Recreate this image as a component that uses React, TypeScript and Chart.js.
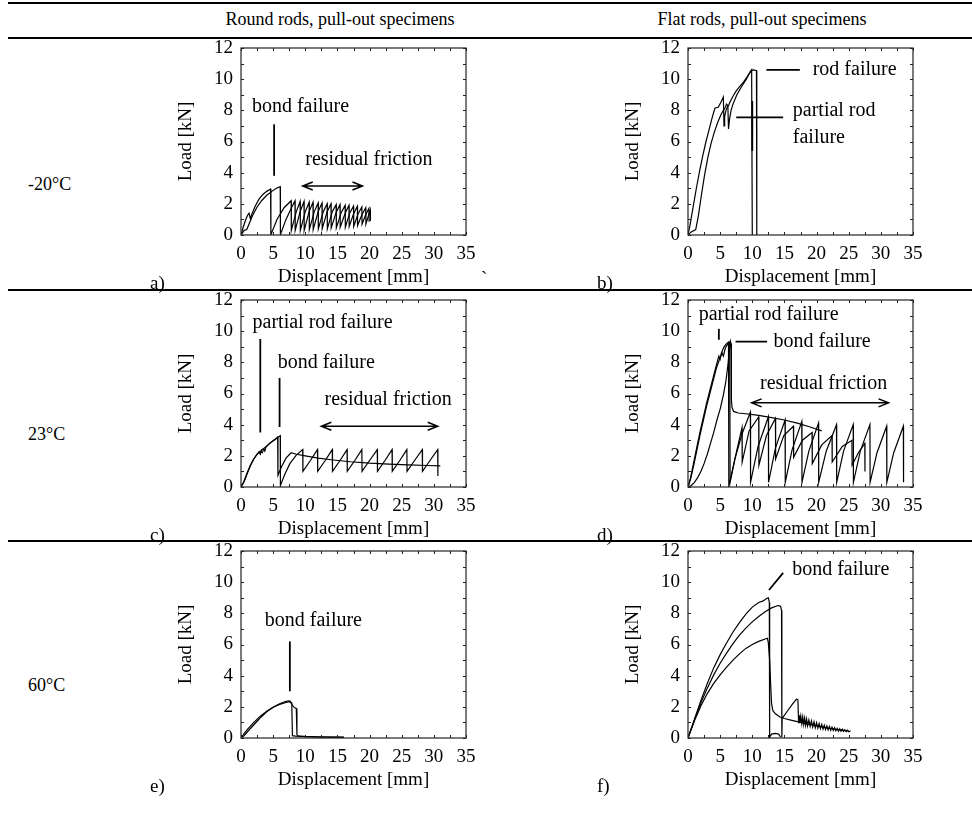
import React, { useEffect, useRef } from "react";
import { Chart, registerables } from "chart.js";

Chart.register(...registerables);

type Pt = [number, number];
type Ann = {
  texts: { x: number; y: number; t: string }[];
  lines: [number, number, number, number][];
  arrows: [number, number, number, number][];
};

const FONT = '"Liberation Serif", "Times New Roman", serif';

// ---------- axes ----------
const X_TICK_LABELS = [0, 5, 10, 15, 20, 25, 30, 35];
const Y_TICK_LABELS = [0, 2, 4, 6, 8, 10, 12];
const X_MINOR = [0, 2.5, 5, 7.5, 10, 12.5, 15, 17.5, 20, 22.5, 25, 27.5, 30, 32.5, 35];
const Y_MINOR = [0, 1, 2, 3, 4, 5, 6, 7, 8, 9, 10, 11, 12];

// ---------- table texts ----------
const COLUMN_TITLES = ["Round rods, pull-out specimens", "Flat rods, pull-out specimens"];
const ROW_TITLES = ["-20°C", "23°C", "60°C"];
const PANEL_LETTERS = ["a)", "b)", "c)", "d)", "e)", "f)"];
const X_TITLE = "Displacement [mm]";
const Y_TITLE = "Load [kN]";

// ---------- a) -20°C round rods ----------
const a1: Pt[] = [
  [0, 0], [0.3, 0.45], [0.7, 0.95], [1.0, 1.25], [1.25, 1.4], [1.45, 1.05], [1.7, 1.35], [2.2, 1.85],
  [2.8, 2.3], [3.4, 2.6], [4.0, 2.8], [4.6, 2.95], [4.65, 0.02],
  [5.6, 1.0], [6.7, 1.75], [7.8, 2.2], [7.83, 0.3], [8.6, 1.5], [9.2, 2.15], [9.23, 0.3], [10.0, 1.5],
  [10.6, 2.1], [10.63, 0.35], [11.4, 1.5], [12.0, 2.05], [12.03, 0.4], [12.8, 1.5], [13.4, 2.0],
  [13.43, 0.4], [14.2, 1.5], [14.8, 1.95], [14.83, 0.45], [15.6, 1.45], [16.2, 1.9], [16.23, 0.5],
  [16.9, 1.4], [17.5, 1.85], [17.53, 0.55], [18.2, 1.35], [18.8, 1.8], [18.83, 0.7], [19.4, 1.3],
  [19.9, 1.7], [19.93, 0.85],
];
const a2: Pt[] = [
  [0, 0], [0.5, 0.3], [0.9, 0.35], [1.3, 0.75], [1.8, 1.25], [2.5, 1.8], [3.2, 2.2], [4.0, 2.55],
  [4.8, 2.8], [5.5, 3.0], [6.1, 3.1], [6.13, 0.02],
  [7.0, 1.0], [7.8, 1.7], [8.4, 2.2], [8.43, 0.3], [9.2, 1.5], [9.8, 2.15], [9.83, 0.3], [10.6, 1.5],
  [11.2, 2.1], [11.23, 0.35], [12.0, 1.5], [12.6, 2.05], [12.63, 0.4], [13.4, 1.5], [14.0, 2.0],
  [14.03, 0.45], [14.8, 1.45], [15.4, 1.95], [15.43, 0.5], [16.2, 1.4], [16.8, 1.9], [16.83, 0.55],
  [17.5, 1.35], [18.1, 1.85], [18.13, 0.6], [18.8, 1.3], [19.4, 1.75], [19.43, 0.7], [19.8, 1.2],
  [20.1, 1.6], [20.13, 0.9],
];

// ---------- b) -20°C flat rods ----------
const b1: Pt[] = [
  [0, 0], [0.3, 0.6], [0.8, 1.8], [1.3, 3.0], [1.8, 4.1], [2.3, 5.1], [2.8, 6.0], [3.3, 6.8],
  [3.8, 7.6], [4.2, 8.15], [4.7, 8.2], [5.1, 8.5], [5.5, 8.85], [5.6, 7.0], [5.7, 7.6], [5.9, 8.0],
  [6.1, 8.2], [6.3, 8.3], [6.5, 8.5], [7.0, 8.9], [7.5, 9.25], [8.0, 9.5], [8.6, 9.8], [9.2, 10.15],
  [9.8, 10.55], [10.2, 10.6], [10.65, 10.55], [10.7, 0],
];
const b2: Pt[] = [
  [0, 0], [0.5, 0.2], [1.2, 0.35], [1.6, 1.2], [2.1, 2.6], [2.6, 3.9], [3.1, 5.0], [3.6, 5.9],
  [4.1, 6.6], [4.6, 7.2], [5.1, 7.7], [5.5, 8.0], [5.8, 8.2], [6.0, 8.4], [6.2, 8.3], [6.3, 6.8],
  [6.45, 7.4], [6.7, 8.0], [7.0, 8.4], [7.6, 9.0], [8.3, 9.5], [9.0, 9.95], [9.6, 10.4], [9.9, 10.6],
  [10.0, 0],
];

// ---------- c) 23°C round rods ----------
const c1: Pt[] = [
  [0, 0], [0.4, 0.3], [0.9, 0.85], [1.4, 1.35], [1.9, 1.75], [2.4, 2.05], [2.8, 2.25], [3.0, 2.1],
  [3.2, 2.4], [3.5, 2.45], [3.7, 2.3], [3.9, 2.6], [4.3, 2.75], [4.8, 2.9], [5.3, 3.05], [5.7, 3.2],
  [5.75, 0.75], [6.3, 1.3], [7.0, 1.85], [7.8, 2.2], [8.6, 2.1], [10, 2.0], [12, 1.85], [14, 1.75],
  [17, 1.62], [20, 1.53], [23, 1.47], [26, 1.42], [29, 1.38], [31, 1.36],
];
const c2: Pt[] = [
  [0, 0], [0.5, 0.35], [1.0, 0.9], [1.5, 1.4], [2.0, 1.8], [2.5, 2.1], [3.0, 2.3], [3.3, 2.2],
  [3.6, 2.5], [4.1, 2.65], [4.6, 2.85], [5.1, 3.0], [5.6, 3.15], [6.1, 3.3], [6.13, 0.1],
  [6.8, 0.8], [7.6, 1.5], [8.6, 2.05], [9.6, 2.4], [9.63, 1.0], [10.8, 1.7], [11.9, 2.4], [11.93, 1.0],
  [13.1, 1.7], [14.2, 2.4], [14.23, 1.0], [15.4, 1.7], [16.5, 2.4], [16.53, 1.0], [17.7, 1.7],
  [18.8, 2.4], [18.83, 1.0], [20.0, 1.7], [21.2, 2.4], [21.23, 1.0], [22.4, 1.7], [23.5, 2.4],
  [23.53, 1.0], [24.7, 1.7], [25.8, 2.4], [25.83, 1.0], [27.0, 1.7], [28.2, 2.4], [28.23, 1.0],
  [29.4, 1.7], [30.6, 2.4], [30.63, 0.7],
];

// ---------- d) 23°C flat rods ----------
const d1: Pt[] = [
  [0, 0], [0.4, 0.6], [0.9, 1.6], [1.4, 2.6], [1.9, 3.6], [2.4, 4.5], [2.9, 5.4], [3.4, 6.2],
  [3.9, 7.0], [4.4, 7.8], [4.8, 8.4], [5.0, 8.2], [5.2, 8.6], [5.6, 9.0], [6.0, 9.2], [6.3, 9.3],
  [6.35, 0.05], [7.3, 1.8], [8.4, 3.4], [9.7, 4.8], [9.73, 0.3], [10.9, 2.6], [12.5, 4.5], [12.53, 0.3],
  [13.6, 2.5], [15.1, 4.3], [15.13, 0.3], [16.2, 2.4], [17.7, 4.2], [17.73, 0.3], [18.8, 2.3],
  [20.3, 4.1], [20.33, 0.3], [21.5, 2.3], [23.1, 4.0], [23.13, 0.3], [24.2, 2.3], [25.7, 4.0],
  [25.73, 0.3], [26.8, 2.3], [28.3, 4.0], [28.33, 0.3], [29.4, 2.2], [30.9, 3.9], [30.93, 0.3],
  [32.0, 2.2], [33.5, 3.9], [33.53, 0.3],
];
const d2: Pt[] = [
  [0, 0], [0.5, 0.1], [1.0, 0.3], [1.5, 0.6], [2.0, 1.0], [2.5, 1.5], [3.0, 2.1], [3.5, 2.8],
  [4.0, 3.5], [4.5, 4.3], [5.0, 5.0], [5.5, 5.9], [5.9, 6.8], [6.2, 7.8], [6.4, 8.6], [6.6, 9.35],
  [6.7, 9.2], [6.75, 5.6], [6.85, 5.1], [7.1, 4.85], [7.8, 4.75], [9, 4.7], [11, 4.6], [13, 4.45],
  [15, 4.3], [17, 4.1], [19, 3.85], [20.8, 3.6],
];
const d3: Pt[] = [
  [0, 0], [0.4, 0.5], [0.9, 1.4], [1.4, 2.4], [1.9, 3.4], [2.4, 4.3], [2.9, 5.2], [3.4, 6.0],
  [3.9, 6.8], [4.4, 7.6], [4.9, 8.2], [5.3, 8.6], [5.5, 8.4], [5.8, 8.9], [6.2, 9.2], [6.5, 9.3],
  [6.55, 0.3], [7.4, 2.0], [8.4, 3.8], [8.43, 1.6], [9.5, 3.6], [11.0, 4.5], [11.03, 1.4], [12.2, 3.3],
  [13.6, 4.4], [13.63, 1.8], [14.9, 3.3], [16.4, 3.9], [16.43, 1.9], [17.8, 3.0], [19.3, 3.5],
  [19.33, 1.5], [20.8, 2.7], [22.4, 3.3], [22.43, 1.6], [24.0, 2.6], [25.5, 3.0], [25.53, 1.4],
  [26.5, 2.2], [27.5, 2.8], [27.53, 1.0],
];

// ---------- e) 60°C round rods ----------
const e1: Pt[] = [
  [0, 0], [0.5, 0.3], [1, 0.55], [2, 1.0], [3, 1.4], [4, 1.72], [5, 1.97], [6, 2.15], [7, 2.28],
  [7.5, 2.33], [7.9, 2.25], [8.0, 0.15], [8.5, 0.12], [10, 0.08], [12, 0.06], [14, 0.05], [16, 0.04],
];
const e2: Pt[] = [
  [0, 0], [0.5, 0.15], [1, 0.4], [2, 0.85], [3, 1.3], [4, 1.68], [5, 1.98], [6, 2.2], [7, 2.35],
  [7.6, 2.38], [8.0, 2.1], [8.3, 1.95], [8.6, 1.9], [8.7, 0.2], [9, 0.12], [10, 0.1], [12, 0.08],
  [14, 0.06], [16, 0.05],
];

// ---------- f) 60°C flat rods ----------
const f1: Pt[] = [
  [0, 0], [1, 1.2], [2, 2.4], [3, 3.5], [4, 4.5], [5, 5.35], [6, 6.1], [7, 6.8], [8, 7.4], [9, 7.95],
  [10, 8.4], [11, 8.7], [11.7, 8.8], [12.2, 8.95], [12.5, 9.0], [12.65, 8.7], [12.7, 0.05],
  [13.0, 0.25], [13.6, 0.3], [14.1, 0.25], [14.4, 0.05],
];
const f2: Pt[] = [
  [0, 0], [1, 1.15], [2, 2.25], [3, 3.2], [4, 4.05], [5, 4.8], [6, 5.45], [7, 6.05], [8, 6.6],
  [9, 7.05], [10, 7.45], [11, 7.8], [12, 8.1], [13, 8.35], [14, 8.5], [14.4, 8.45], [14.55, 8.2],
  [14.6, 0.05], [14.65, 1.25], [15.5, 1.75], [16.3, 2.2], [16.9, 2.5], [17.1, 2.45], [17.2, 0.95],
  [17.3, 1.45], [17.4, 0.95], [17.55, 1.4], [17.7, 0.9], [17.85, 1.35], [18.0, 0.86], [18.15, 1.28],
  [18.3, 0.82], [18.45, 1.22], [18.6, 0.78], [18.8, 1.16], [19.0, 0.74], [19.2, 1.1], [19.4, 0.7],
  [19.6, 1.04], [19.8, 0.66], [20.0, 0.98], [20.2, 0.63], [20.4, 0.92], [20.6, 0.6], [20.8, 0.87],
  [21.0, 0.57], [21.2, 0.82], [21.4, 0.54], [21.6, 0.78], [21.8, 0.52], [22.0, 0.74], [22.2, 0.5],
  [22.4, 0.7], [22.6, 0.48], [22.8, 0.66], [23.0, 0.46], [23.2, 0.62], [23.4, 0.44], [23.6, 0.59],
  [23.8, 0.43], [24.0, 0.56], [24.2, 0.42], [24.4, 0.53], [24.6, 0.41], [24.8, 0.5], [25.0, 0.4],
  [25.3, 0.46],
];
const f3: Pt[] = [
  [0, 0], [1, 1.1], [2, 2.05], [3, 2.85], [4, 3.5], [5, 4.05], [6, 4.55], [7, 5.0], [8, 5.4],
  [9, 5.75], [10, 6.0], [11, 6.2], [12, 6.35], [12.35, 6.4], [12.5, 6.1], [12.7, 5.0], [12.85, 3.5],
  [13.0, 2.2], [13.2, 1.75], [13.6, 1.55], [14.3, 1.35], [15, 1.25], [16, 1.15], [17, 1.05],
  [18, 0.95], [19, 0.85], [20, 0.78], [21, 0.7], [22, 0.62], [23, 0.55], [24, 0.5], [25, 0.45],
];

// ---------- annotations (data units) ----------
const annA: Ann = {
  texts: [{ x: 1.7, y: 8.2, t: "bond failure" }, { x: 10, y: 4.86, t: "residual friction" }],
  lines: [[5.15, 7.1, 5.15, 3.8]],
  arrows: [[9.6, 3.14, 18.9, 3.14]],
};
const annB: Ann = {
  texts: [
    { x: 19.4, y: 10.6, t: "rod failure" },
    { x: 16.3, y: 7.96, t: "partial rod" },
    { x: 16.3, y: 6.25, t: "failure" },
  ],
  lines: [[12.2, 10.6, 17.4, 10.6], [7.5, 7.55, 14.8, 7.55], [10.0, 8.6, 10.0, 5.4]],
  arrows: [],
};
const annC: Ann = {
  texts: [
    { x: 1.8, y: 10.55, t: "partial rod failure" },
    { x: 5.7, y: 8.0, t: "bond failure" },
    { x: 13.0, y: 5.6, t: "residual friction" },
  ],
  lines: [[3.0, 9.5, 3.0, 3.5], [6.0, 7.0, 6.0, 3.85]],
  arrows: [[12.5, 3.9, 30.6, 3.9]],
};
const annD: Ann = {
  texts: [
    { x: 1.66, y: 11.05, t: "partial rod failure" },
    { x: 13.3, y: 9.33, t: "bond failure" },
    { x: 11.2, y: 6.65, t: "residual friction" },
  ],
  lines: [[4.8, 10.15, 4.8, 9.45], [7.4, 9.33, 12.3, 9.33]],
  arrows: [[9.9, 5.4, 31.2, 5.4]],
};
const annE: Ann = {
  texts: [{ x: 3.7, y: 7.55, t: "bond failure" }],
  lines: [[7.6, 6.2, 7.6, 3.0]],
  arrows: [],
};
const annF: Ann = {
  texts: [{ x: 16.2, y: 10.8, t: "bond failure" }],
  lines: [[12.6, 9.5, 14.8, 10.6]],
  arrows: [],
};

// ---------- layout ----------
const PW = 225;
const PH = 187;
const COL_LEFT = [241, 688];
const ROW_TOP = [48, 300, 551];
const RULES = [3, 38, 290, 541];
const ROW_LABEL_Y = [184, 434, 685];
const AX_FONT = 19;
const ANN_FONT = 20;

const PANELS = [
  { series: [a1, a2], ann: annA },
  { series: [b1, b2], ann: annB },
  { series: [c1, c2], ann: annC },
  { series: [d1, d2, d3], ann: annD },
  { series: [e1, e2], ann: annE },
  { series: [f1, f2, f3], ann: annF },
];

function makeFramePlugin(ann: Ann) {
  return {
    id: "frameAnn",
    afterDraw(chart: any) {
      const { ctx, chartArea } = chart;
      const { left, right, top, bottom } = chartArea;
      const xs = chart.scales.x;
      const ys = chart.scales.y;
      ctx.save();
      ctx.strokeStyle = "#222";
      ctx.lineWidth = 1.2;
      ctx.strokeRect(left, top, right - left, bottom - top);
      ctx.lineWidth = 1;
      ctx.beginPath();
      for (const v of X_MINOR) {
        const px = Math.round(xs.getPixelForValue(v)) + 0.5;
        ctx.moveTo(px, bottom);
        ctx.lineTo(px, bottom - 3);
        ctx.moveTo(px, top);
        ctx.lineTo(px, top + 3);
      }
      for (const v of Y_MINOR) {
        const py = Math.round(ys.getPixelForValue(v)) + 0.5;
        ctx.moveTo(left, py);
        ctx.lineTo(left + 3, py);
        ctx.moveTo(right, py);
        ctx.lineTo(right - 3, py);
      }
      ctx.stroke();

      ctx.strokeStyle = "#000";
      ctx.fillStyle = "#000";
      ctx.lineWidth = 1.8;
      for (const [x1, y1, x2, y2] of ann.lines) {
        ctx.beginPath();
        ctx.moveTo(xs.getPixelForValue(x1), ys.getPixelForValue(y1));
        ctx.lineTo(xs.getPixelForValue(x2), ys.getPixelForValue(y2));
        ctx.stroke();
      }
      ctx.lineWidth = 1.5;
      for (const [x1, y1, x2, y2] of ann.arrows) {
        const p1x = xs.getPixelForValue(x1);
        const p1y = ys.getPixelForValue(y1);
        const p2x = xs.getPixelForValue(x2);
        const p2y = ys.getPixelForValue(y2);
        ctx.beginPath();
        ctx.moveTo(p1x, p1y);
        ctx.lineTo(p2x, p2y);
        ctx.moveTo(p1x + 10, p1y - 4);
        ctx.lineTo(p1x, p1y);
        ctx.lineTo(p1x + 10, p1y + 4);
        ctx.moveTo(p2x - 10, p2y - 4);
        ctx.lineTo(p2x, p2y);
        ctx.lineTo(p2x - 10, p2y + 4);
        ctx.stroke();
      }
      ctx.font = `${ANN_FONT}px ${FONT}`;
      ctx.textAlign = "left";
      ctx.textBaseline = "middle";
      for (const t of ann.texts) {
        ctx.fillText(t.t, xs.getPixelForValue(t.x), ys.getPixelForValue(t.y));
      }
      ctx.restore();
    },
  };
}

function Panel({ series, ann, PL, PT }: { series: Pt[][]; ann: Ann; PL: number; PT: number }) {
  const ref = useRef<HTMLCanvasElement | null>(null);
  const W = 70 + PW + 22;
  const H = 24 + PH + 56;
  useEffect(() => {
    const canvas = ref.current!;
    const pad = { top: 24, right: 22, left: 0, bottom: 0 };
    const font = { family: FONT, size: AX_FONT };
    const chart = new Chart(canvas, {
      type: "scatter",
      data: {
        datasets: series.map((s) => ({
          data: s.map(([x, y]) => ({ x, y })),
          showLine: true,
          borderColor: "#000",
          backgroundColor: "#000",
          borderWidth: 1.2,
          pointRadius: 0,
          pointHoverRadius: 0,
          fill: false,
          tension: 0,
        })),
      },
      options: {
        animation: false,
        responsive: false,
        maintainAspectRatio: false,
        events: [],
        layout: { padding: { ...pad } },
        plugins: { legend: { display: false }, tooltip: { enabled: false } },
        scales: {
          x: {
            type: "linear",
            min: 0,
            max: 35,
            afterBuildTicks: (s: any) => {
              s.ticks = X_TICK_LABELS.map((v) => ({ value: v }));
            },
            afterFit: (s: any) => {
              s.height = 56;
            },
            ticks: { color: "#000", font, padding: 8, maxRotation: 0, autoSkip: false, callback: (v: any) => String(v) },
            grid: { display: false, drawTicks: false },
            border: { display: false },
            title: { display: true, text: X_TITLE, color: "#000", font, padding: { top: 0, bottom: 3 } },
          },
          y: {
            type: "linear",
            min: 0,
            max: 12,
            afterBuildTicks: (s: any) => {
              s.ticks = Y_TICK_LABELS.map((v) => ({ value: v }));
            },
            afterFit: (s: any) => {
              s.width = 70;
            },
            ticks: { color: "#000", font, padding: 8, autoSkip: false, callback: (v: any) => String(v) },
            grid: { display: false, drawTicks: false },
            border: { display: false },
            title: { display: true, text: Y_TITLE, color: "#000", font, padding: { top: 4, bottom: 0 } },
          },
        },
      } as any,
      plugins: [makeFramePlugin(ann)],
    });
    const fit = () => {
      let ca = chart.chartArea;
      const dw = ca.right - ca.left - PW;
      const dh = ca.bottom - ca.top - PH;
      if (Math.abs(dw) > 0.5 || Math.abs(dh) > 0.5) {
        pad.right += dw;
        pad.bottom += dh;
        (chart.options as any).layout.padding = { ...pad };
        chart.update();
        ca = chart.chartArea;
      }
      canvas.style.left = `${PL - ca.left}px`;
      canvas.style.top = `${PT - ca.top}px`;
    };
    fit();
    let alive = true;
    const fonts = (document as any).fonts;
    if (fonts && fonts.load) {
      Promise.all([
        fonts.load(`${AX_FONT}px "Liberation Serif"`),
        fonts.load(`${ANN_FONT}px "Liberation Serif"`),
      ]).then(() => {
        if (!alive) return;
        chart.update();
        fit();
      }, () => {});
    }
    return () => {
      alive = false;
      chart.destroy();
    };
  }, []);
  return (
    <canvas
      ref={ref}
      width={W}
      height={H}
      style={{ position: "absolute", left: PL - 70, top: PT - 24, width: W, height: H }}
    />
  );
}

function Label({ x, y, text, size, center }: { x: number; y: number; text: string; size: number; center?: boolean }) {
  return (
    <div
      style={{
        position: "absolute",
        left: x,
        top: y,
        fontSize: size,
        lineHeight: 1,
        whiteSpace: "nowrap",
        color: "#000",
        transform: center ? "translate(-50%, -50%)" : "translate(0, -50%)",
      }}
    >
      {text}
    </div>
  );
}

export default function App() {
  return (
    <div
      style={{
        position: "absolute",
        left: 0,
        top: 0,
        width: 972,
        height: 834,
        background: "#fff",
        overflow: "hidden",
        fontFamily: FONT,
      }}
    >
      {RULES.map((y, i) => (
        <div key={`r${i}`} style={{ position: "absolute", left: 8, top: y - 1, width: 964, height: 2, background: "#000" }} />
      ))}
      <Label x={340} y={19} text={COLUMN_TITLES[0]} size={18} center />
      <Label x={762} y={19} text={COLUMN_TITLES[1]} size={18} center />
      {ROW_TITLES.map((t, r) => (
        <Label key={`rt${r}`} x={28} y={ROW_LABEL_Y[r]} text={t} size={18} />
      ))}
      {PANELS.map((p, i) => {
        const r = Math.floor(i / 2);
        const c = i % 2;
        return <Panel key={`p${i}`} series={p.series} ann={p.ann} PL={COL_LEFT[c]} PT={ROW_TOP[r]} />;
      })}
      {PANEL_LETTERS.map((t, i) => {
        const r = Math.floor(i / 2);
        const c = i % 2;
        return <Label key={`l${i}`} x={c === 0 ? 150 : 597} y={ROW_TOP[r] + PH + 47} text={t} size={19} />;
      })}
      <Label x={481} y={ROW_TOP[0] + PH + 42} text="`" size={19} />
    </div>
  );
}
